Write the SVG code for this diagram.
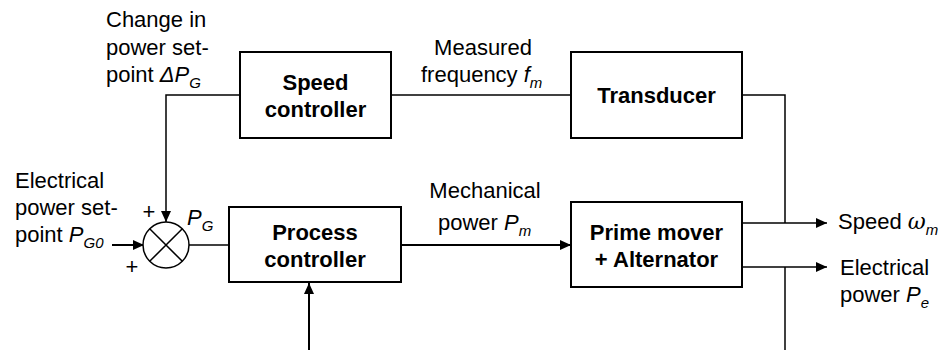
<svg xmlns="http://www.w3.org/2000/svg" width="942" height="350" viewBox="0 0 942 350">
<style>
.t{font-family:"Liberation Sans",Arial,sans-serif;font-size:22px;fill:#000}
.b{font-weight:bold}
.i{font-style:italic}
.s{font-size:15px;font-style:italic}
.box{fill:#fff;stroke:#000;stroke-width:2}
.ln{fill:none;stroke:#000;stroke-width:1.5}
.ar{fill:none;stroke:#000;stroke-width:2}
</style>
<defs>
<marker id="ah" markerUnits="userSpaceOnUse" markerWidth="12" markerHeight="10" refX="11" refY="5" orient="auto">
<path d="M0,0 L11,5 L0,10 z" fill="#000"/>
</marker>
</defs>
<rect width="942" height="350" fill="#fff"/>

<g id="connectors">
<path class="ln" d="M240,95 H166 V222" marker-end="url(#ah)"/>
<path class="ln" d="M391,95 H571"/>
<path class="ln" d="M742,95 H785 V223"/>
<path class="ln" d="M742,223 H827" marker-end="url(#ah)"/>
<path class="ln" d="M742,267 H827" marker-end="url(#ah)"/>
<path class="ln" d="M785,267 V350"/>
<path class="ar" d="M309,350 V283" marker-end="url(#ah)"/>
<path class="ar" d="M112,245 H144" marker-end="url(#ah)"/>
<path class="ln" d="M189,245 H229"/>
<path class="ar" d="M401,245 H571" marker-end="url(#ah)"/>
</g>

<g id="speed-controller">
<rect class="box" x="240" y="52" width="151" height="86"/>
<text class="t b" x="315.5" y="90" text-anchor="middle">Speed</text>
<text class="t b" x="315.5" y="117" text-anchor="middle">controller</text>
</g>

<g id="transducer">
<rect class="box" x="571" y="52" width="171" height="86"/>
<text class="t b" x="656.5" y="103" text-anchor="middle">Transducer</text>
</g>

<g id="process-controller">
<rect class="box" x="229" y="207" width="172" height="75"/>
<text class="t b" x="315" y="240" text-anchor="middle">Process</text>
<text class="t b" x="315" y="267" text-anchor="middle">controller</text>
</g>

<g id="prime-mover">
<rect class="box" x="571" y="202" width="171" height="85"/>
<text class="t b" x="656.5" y="240" text-anchor="middle">Prime mover</text>
<text class="t b" x="656.5" y="267" text-anchor="middle">+ Alternator</text>
</g>

<g id="summing-junction">
<circle cx="166" cy="245" r="23" fill="#fff" stroke="#000" stroke-width="1.5"/>
<path class="ln" d="M149.7,228.7 L182.3,261.3 M182.3,228.7 L149.7,261.3"/>
<text class="t" x="149" y="219" text-anchor="middle">+</text>
<text class="t" x="132" y="274" text-anchor="middle">+</text>
<text class="t" x="187" y="225"><tspan class="i">P</tspan><tspan class="s" dy="6">G</tspan></text>
</g>

<g id="labels">
<text class="t" x="106" y="27">Change in</text>
<text class="t" x="106" y="55">power set-</text>
<text class="t" x="106" y="82">point <tspan class="i">ΔP</tspan><tspan class="s" dy="6">G</tspan></text>

<text class="t" x="15" y="188">Electrical</text>
<text class="t" x="15" y="215">power set-</text>
<text class="t" x="15" y="242">point <tspan class="i">P</tspan><tspan class="s" dy="6">G0</tspan></text>

<text class="t" x="483" y="55" text-anchor="middle">Measured</text>
<text class="t" x="421" y="82">frequency <tspan class="i">f</tspan><tspan class="s" dy="6">m</tspan></text>

<text class="t" x="485" y="198" text-anchor="middle">Mechanical</text>
<text class="t" x="438" y="230">power <tspan class="i">P</tspan><tspan class="s" dy="6">m</tspan></text>

<text class="t" x="838" y="229">Speed <tspan class="i" font-family="'DejaVu Serif',serif">ω</tspan><tspan class="s" dy="6">m</tspan></text>
<text class="t" x="840" y="275">Electrical</text>
<text class="t" x="840" y="302">power <tspan class="i">P</tspan><tspan class="s" dy="6">e</tspan></text>
</g>
</svg>
